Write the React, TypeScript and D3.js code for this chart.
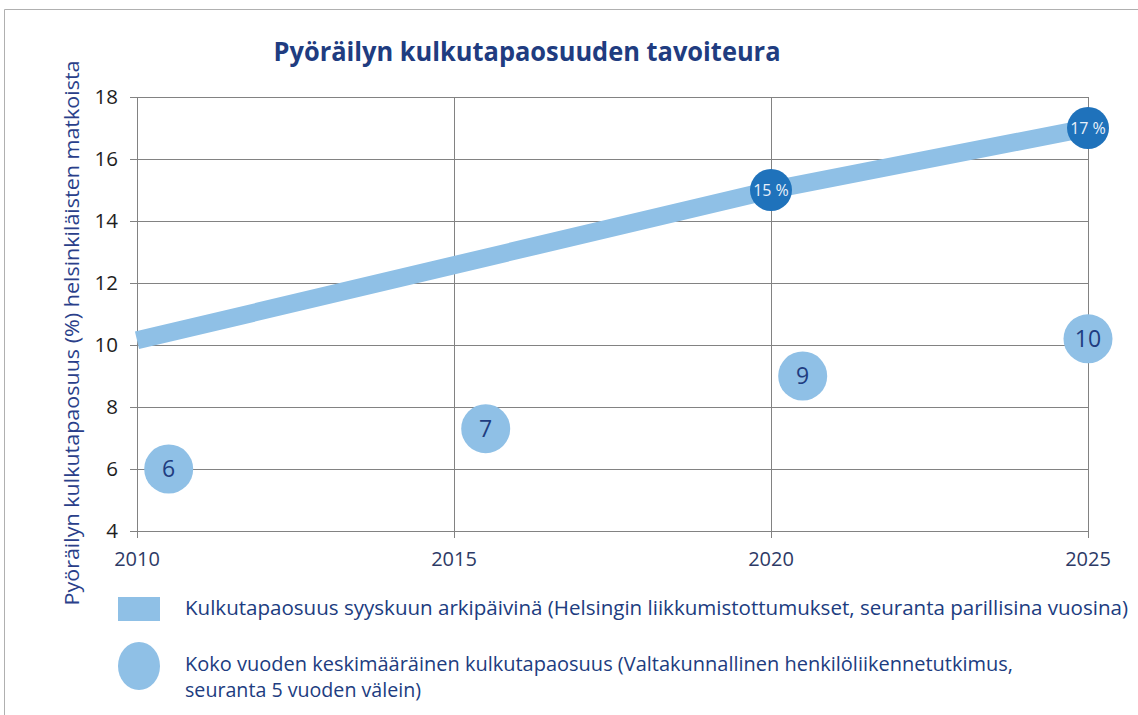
import React from "react";
import * as d3 from "d3";

const xTicks = [2010, 2015, 2020, 2025];
const yTicks = [4, 6, 8, 10, 12, 14, 16, 18];

// wide band: September weekday share
const bandYears = [2010, 2020, 2025];
const bandValues = [10.15, 15, 17];

// target markers on the band
const targetYears = [2020, 2025];
const targetValues = [15, 17];
const targetLabels = ["15 %", "17 %"];

// whole-year average (national survey)
const surveyYears = [2010.5, 2015.5, 2020.5, 2025];
const surveyValues = [6, 7.3, 9, 10.2];
const surveyLabels = ["6", "7", "9", "10"];

const legendBand =
  "Kulkutapaosuus syyskuun arkipäivinä (Helsingin liikkumistottumukset, seuranta parillisina vuosina)";
const legendDot1 =
  "Koko vuoden keskimääräinen kulkutapaosuus (Valtakunnallinen henkilöliikennetutkimus,";
const legendDot2 = "seuranta 5 vuoden välein)";

const W = 1138;
const H = 715;
const font = "'Open Sans', 'Noto Sans', sans-serif";
const navy = "#203c80";
const light = "#8fc0e6";
const dark = "#1f72bb";

export default function App() {
  const x = d3.scaleLinear().domain([2010, 2025]).range([137, 1088]);
  const y = d3.scaleLinear().domain([4, 18]).range([531, 97]);

  const line = d3
    .line<number>()
    .x((d, i) => x(bandYears[i]))
    .y((d) => y(d));

  return (
    <div style={{ position: "absolute", left: 0, top: 0 }}>
      <svg width={W} height={H} style={{ display: "block", background: "#fff" }}>
        {/* frame */}
        <line x1={4.5} y1={9.5} x2={W} y2={9.5} stroke="#b0b0b0" />
        <line x1={4.5} y1={9.5} x2={4.5} y2={H} stroke="#b0b0b0" />

        <text
          x={527}
          y={61}
          textAnchor="middle"
          fontFamily={font}
          fontWeight="bold"
          fontSize={27}
          fill={navy}
          textLength={507}
          lengthAdjust="spacingAndGlyphs"
        >
          Pyöräilyn kulkutapaosuuden tavoiteura
        </text>

        {/* grid */}
        {yTicks.map((t) => (
          <line key={"h" + t} x1={130} x2={x(2025)} y1={Math.round(y(t)) + 0.5} y2={Math.round(y(t)) + 0.5} stroke="#828282" />
        ))}
        {xTicks.map((t) => (
          <line key={"v" + t} x1={Math.round(x(t)) + 0.5} x2={Math.round(x(t)) + 0.5} y1={y(18)} y2={y(4) + 7} stroke="#828282" />
        ))}

        {yTicks.map((t) => (
          <text key={"yl" + t} x={118} y={y(t)} dy="0.36em" textAnchor="end" fontFamily={font} fontSize={20.5} fill="#1e1e1e">
            {t}
          </text>
        ))}
        {xTicks.map((t) => (
          <text key={"xl" + t} x={x(t)} y={566} textAnchor="middle" fontFamily={font} fontSize={20} fill="#2d3a66">
            {t}
          </text>
        ))}

        <text
          transform={`translate(79,333) rotate(-90)`}
          textAnchor="middle"
          fontFamily={font}
          fontSize={20.5}
          fill="#2a3f8a"
          textLength={545}
          lengthAdjust="spacingAndGlyphs"
        >
          Pyöräilyn kulkutapaosuus (%) helsinkiläisten matkoista
        </text>

        {/* band */}
        <path d={line(bandValues) || ""} fill="none" stroke={light} strokeWidth={18} strokeLinecap="butt" strokeLinejoin="round" />

        {targetValues.map((v, i) => (
          <g key={"t" + i}>
            <circle cx={x(targetYears[i])} cy={y(v)} r={21} fill={dark} />
            <text x={x(targetYears[i])} y={y(v)} dy="0.35em" textAnchor="middle" fontFamily={font} fontSize={16} fill="#e8f0fa">
              {targetLabels[i]}
            </text>
          </g>
        ))}

        {surveyValues.map((v, i) => (
          <g key={"s" + i}>
            <circle cx={x(surveyYears[i])} cy={y(v)} r={24.5} fill={light} />
            <text x={x(surveyYears[i])} y={y(v)} dy="0.36em" textAnchor="middle" fontFamily={font} fontSize={23} fill={navy}>
              {surveyLabels[i]}
            </text>
          </g>
        ))}

        {/* legend */}
        <rect x={118} y={597} width={42} height={24} fill={light} />
        <text x={185} y={615} fontFamily={font} fontSize={20} fill={navy} textLength={943} lengthAdjust="spacingAndGlyphs">
          {legendBand}
        </text>
        <ellipse cx={139} cy={666} rx={21} ry={24} fill={light} />
        <text x={185} y={671} fontFamily={font} fontSize={20} fill={navy} textLength={828} lengthAdjust="spacingAndGlyphs">
          {legendDot1}
        </text>
        <text x={185} y={697} fontFamily={font} fontSize={20} fill={navy} textLength={236} lengthAdjust="spacingAndGlyphs">
          {legendDot2}
        </text>
      </svg>
    </div>
  );
}
